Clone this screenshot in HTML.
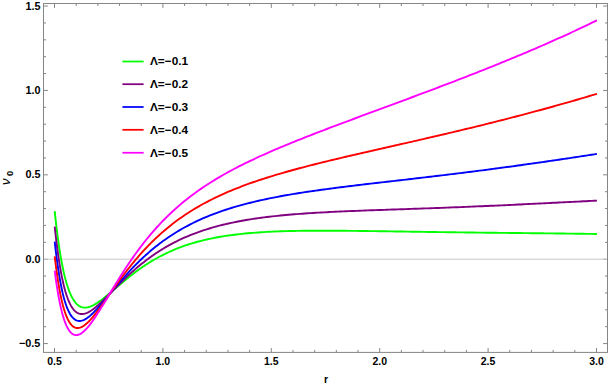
<!DOCTYPE html><html><head><meta charset="utf-8"><title>plot</title><style>
html,body{margin:0;padding:0;background:#fff}
#c{position:relative;width:608px;height:386px;overflow:hidden;background:#fff;font-family:"Liberation Sans",sans-serif}
</style></head><body><div id="c">
<svg width="608" height="386" viewBox="0 0 608 386" style="position:absolute;left:0;top:0">
<line x1="43.5" y1="259.2" x2="607.5" y2="259.2" stroke="#c9c9c9" stroke-width="1"/>
<path d="M54.70 211.22 L55.60 219.61 L56.50 227.40 L57.41 234.62 L58.31 241.32 L59.21 247.53 L60.12 253.27 L61.02 258.58 L61.92 263.49 L62.82 268.01 L63.72 272.19 L64.63 276.02 L65.53 279.55 L66.43 282.78 L67.34 285.74 L68.24 288.44 L69.14 290.90 L70.04 293.14 L70.94 295.16 L71.85 296.99 L72.75 298.63 L73.65 300.10 L74.56 301.40 L75.46 302.55 L76.36 303.56 L77.26 304.44 L78.17 305.19 L79.07 305.83 L79.97 306.35 L80.87 306.78 L81.78 307.11 L82.68 307.35 L83.58 307.50 L84.48 307.58 L85.38 307.59 L86.29 307.53 L87.19 307.41 L88.09 307.23 L89.00 306.99 L89.90 306.71 L90.80 306.38 L91.70 306.00 L92.61 305.59 L93.51 305.13 L94.41 304.65 L95.31 304.13 L96.22 303.58 L97.12 303.01 L98.02 302.41 L98.92 301.79 L99.83 301.15 L100.73 300.49 L101.63 299.82 L102.53 299.13 L103.44 298.42 L104.34 297.71 L105.24 296.98 L106.14 296.25 L107.05 295.50 L107.95 294.75 L108.85 293.99 L109.75 293.23 L110.66 292.46 L111.56 291.69 L112.46 290.92 L113.36 290.15 L114.27 289.37 L115.17 288.60 L116.07 287.82 L116.97 287.05 L117.88 286.27 L118.78 285.50 L119.68 284.74 L120.58 283.97 L121.48 283.21 L122.39 282.45 L123.29 281.70 L124.19 280.95 L125.09 280.20 L126.00 279.46 L126.90 278.72 L127.80 277.99 L128.70 277.27 L129.61 276.55 L130.51 275.84 L131.41 275.13 L132.31 274.43 L133.22 273.74 L134.12 273.06 L135.02 272.38 L135.93 271.70 L136.83 271.04 L137.73 270.38 L138.63 269.73 L139.53 269.08 L140.44 268.45 L141.34 267.82 L142.24 267.19 L143.14 266.58 L144.05 265.97 L144.95 265.37 L145.85 264.77 L146.75 264.19 L147.66 263.61 L148.56 263.04 L149.46 262.47 L150.37 261.92 L151.27 261.37 L152.17 260.83 L153.07 260.29 L153.97 259.76 L154.88 259.24 L155.78 258.73 L156.68 258.22 L157.58 257.72 L158.49 257.23 L159.39 256.75 L160.29 256.27 L161.19 255.80 L162.10 255.33 L163.00 254.87 L165.73 253.53 L168.46 252.24 L171.19 251.02 L173.92 249.84 L176.65 248.73 L179.38 247.66 L182.11 246.65 L184.83 245.68 L187.56 244.76 L190.29 243.89 L193.02 243.06 L195.75 242.27 L198.48 241.52 L201.21 240.81 L203.94 240.14 L206.67 239.50 L209.40 238.90 L212.13 238.33 L214.86 237.79 L217.59 237.28 L220.32 236.80 L223.04 236.35 L225.77 235.92 L228.50 235.51 L231.23 235.13 L233.96 234.78 L236.69 234.44 L239.42 234.13 L242.15 233.83 L244.88 233.56 L247.61 233.30 L250.34 233.06 L253.07 232.83 L255.80 232.62 L258.53 232.43 L261.25 232.24 L263.98 232.08 L266.71 231.92 L269.44 231.78 L272.17 231.65 L274.90 231.53 L277.63 231.42 L280.36 231.32 L283.09 231.22 L285.82 231.14 L288.55 231.07 L291.28 231.00 L294.01 230.94 L296.74 230.89 L299.46 230.85 L302.19 230.81 L304.92 230.77 L307.65 230.75 L310.38 230.73 L313.11 230.71 L315.84 230.70 L318.57 230.69 L321.30 230.69 L324.03 230.69 L326.76 230.69 L329.49 230.70 L332.22 230.71 L334.95 230.72 L337.67 230.74 L340.40 230.76 L343.13 230.78 L345.86 230.80 L348.59 230.83 L351.32 230.85 L354.05 230.88 L356.78 230.91 L359.51 230.95 L362.24 230.98 L364.97 231.01 L367.70 231.05 L370.43 231.09 L373.16 231.12 L375.89 231.16 L378.61 231.20 L381.34 231.24 L384.07 231.28 L386.80 231.32 L389.53 231.36 L392.26 231.40 L394.99 231.44 L397.72 231.48 L400.45 231.53 L403.18 231.57 L405.91 231.61 L408.64 231.65 L411.37 231.69 L414.10 231.73 L416.82 231.77 L419.55 231.81 L422.28 231.85 L425.01 231.89 L427.74 231.93 L430.47 231.97 L433.20 232.01 L435.93 232.05 L438.66 232.09 L441.39 232.13 L444.12 232.16 L446.85 232.20 L449.58 232.24 L452.31 232.27 L455.03 232.31 L457.76 232.35 L460.49 232.38 L463.22 232.42 L465.95 232.45 L468.68 232.48 L471.41 232.52 L474.14 232.55 L476.87 232.58 L479.60 232.61 L482.33 232.65 L485.06 232.68 L487.79 232.71 L490.52 232.74 L493.24 232.77 L495.97 232.80 L498.70 232.83 L501.43 232.86 L504.16 232.89 L506.89 232.92 L509.62 232.95 L512.35 232.98 L515.08 233.01 L517.81 233.04 L520.54 233.06 L523.27 233.09 L526.00 233.12 L528.73 233.15 L531.45 233.18 L534.18 233.21 L536.91 233.24 L539.64 233.27 L542.37 233.30 L545.10 233.33 L547.83 233.36 L550.56 233.39 L553.29 233.42 L556.02 233.45 L558.75 233.49 L561.48 233.52 L564.21 233.55 L566.94 233.59 L569.67 233.62 L572.39 233.65 L575.12 233.69 L577.85 233.73 L580.58 233.76 L583.31 233.80 L586.04 233.84 L588.77 233.88 L591.50 233.92 L594.23 233.96 L596.96 234.01" fill="none" stroke="#00ff00" stroke-width="1.9" stroke-linejoin="round"/>
<path d="M54.70 226.56 L55.60 234.81 L56.50 242.43 L57.41 249.46 L58.31 255.94 L59.21 261.91 L60.12 267.40 L61.02 272.44 L61.92 277.07 L62.82 281.30 L63.72 285.18 L64.63 288.71 L65.53 291.92 L66.43 294.84 L67.34 297.49 L68.24 299.87 L69.14 302.02 L70.04 303.93 L70.94 305.64 L71.85 307.15 L72.75 308.48 L73.65 309.64 L74.56 310.64 L75.46 311.49 L76.36 312.19 L77.26 312.78 L78.17 313.24 L79.07 313.58 L79.97 313.83 L80.87 313.97 L81.78 314.03 L82.68 314.00 L83.58 313.89 L84.48 313.71 L85.38 313.46 L86.29 313.15 L87.19 312.78 L88.09 312.36 L89.00 311.89 L89.90 311.37 L90.80 310.81 L91.70 310.22 L92.61 309.58 L93.51 308.92 L94.41 308.22 L95.31 307.50 L96.22 306.75 L97.12 305.98 L98.02 305.19 L98.92 304.38 L99.83 303.55 L100.73 302.71 L101.63 301.85 L102.53 300.99 L103.44 300.11 L104.34 299.22 L105.24 298.33 L106.14 297.43 L107.05 296.52 L107.95 295.61 L108.85 294.70 L109.75 293.78 L110.66 292.87 L111.56 291.95 L112.46 291.03 L113.36 290.11 L114.27 289.19 L115.17 288.28 L116.07 287.37 L116.97 286.46 L117.88 285.55 L118.78 284.65 L119.68 283.75 L120.58 282.85 L121.48 281.97 L122.39 281.08 L123.29 280.20 L124.19 279.33 L125.09 278.46 L126.00 277.60 L126.90 276.75 L127.80 275.90 L128.70 275.06 L129.61 274.23 L130.51 273.40 L131.41 272.58 L132.31 271.77 L133.22 270.97 L134.12 270.17 L135.02 269.38 L135.93 268.60 L136.83 267.83 L137.73 267.06 L138.63 266.31 L139.53 265.56 L140.44 264.81 L141.34 264.08 L142.24 263.36 L143.14 262.64 L144.05 261.93 L144.95 261.23 L145.85 260.53 L146.75 259.85 L147.66 259.17 L148.56 258.50 L149.46 257.83 L150.37 257.18 L151.27 256.53 L152.17 255.89 L153.07 255.26 L153.97 254.64 L154.88 254.02 L155.78 253.41 L156.68 252.81 L157.58 252.22 L158.49 251.63 L159.39 251.05 L160.29 250.48 L161.19 249.92 L162.10 249.36 L163.00 248.81 L165.73 247.19 L168.46 245.63 L171.19 244.13 L173.92 242.69 L176.65 241.30 L179.38 239.97 L182.11 238.70 L184.83 237.47 L187.56 236.30 L190.29 235.17 L193.02 234.09 L195.75 233.05 L198.48 232.05 L201.21 231.10 L203.94 230.19 L206.67 229.31 L209.40 228.47 L212.13 227.66 L214.86 226.89 L217.59 226.15 L220.32 225.44 L223.04 224.76 L225.77 224.11 L228.50 223.48 L231.23 222.88 L233.96 222.31 L236.69 221.76 L239.42 221.24 L242.15 220.73 L244.88 220.25 L247.61 219.79 L250.34 219.34 L253.07 218.92 L255.80 218.51 L258.53 218.12 L261.25 217.75 L263.98 217.39 L266.71 217.05 L269.44 216.72 L272.17 216.41 L274.90 216.11 L277.63 215.82 L280.36 215.54 L283.09 215.28 L285.82 215.02 L288.55 214.78 L291.28 214.54 L294.01 214.32 L296.74 214.10 L299.46 213.89 L302.19 213.69 L304.92 213.50 L307.65 213.31 L310.38 213.13 L313.11 212.96 L315.84 212.79 L318.57 212.63 L321.30 212.48 L324.03 212.33 L326.76 212.18 L329.49 212.04 L332.22 211.91 L334.95 211.78 L337.67 211.65 L340.40 211.52 L343.13 211.40 L345.86 211.28 L348.59 211.17 L351.32 211.06 L354.05 210.95 L356.78 210.84 L359.51 210.73 L362.24 210.63 L364.97 210.52 L367.70 210.42 L370.43 210.32 L373.16 210.22 L375.89 210.13 L378.61 210.03 L381.34 209.94 L384.07 209.84 L386.80 209.75 L389.53 209.65 L392.26 209.56 L394.99 209.46 L397.72 209.37 L400.45 209.28 L403.18 209.18 L405.91 209.09 L408.64 209.00 L411.37 208.90 L414.10 208.81 L416.82 208.71 L419.55 208.62 L422.28 208.52 L425.01 208.42 L427.74 208.33 L430.47 208.23 L433.20 208.13 L435.93 208.03 L438.66 207.93 L441.39 207.83 L444.12 207.73 L446.85 207.62 L449.58 207.52 L452.31 207.41 L455.03 207.31 L457.76 207.20 L460.49 207.09 L463.22 206.98 L465.95 206.87 L468.68 206.76 L471.41 206.65 L474.14 206.53 L476.87 206.42 L479.60 206.30 L482.33 206.18 L485.06 206.06 L487.79 205.94 L490.52 205.82 L493.24 205.70 L495.97 205.58 L498.70 205.46 L501.43 205.33 L504.16 205.21 L506.89 205.08 L509.62 204.95 L512.35 204.83 L515.08 204.70 L517.81 204.57 L520.54 204.44 L523.27 204.31 L526.00 204.17 L528.73 204.04 L531.45 203.91 L534.18 203.77 L536.91 203.64 L539.64 203.50 L542.37 203.37 L545.10 203.23 L547.83 203.10 L550.56 202.96 L553.29 202.82 L556.02 202.69 L558.75 202.55 L561.48 202.41 L564.21 202.28 L566.94 202.14 L569.67 202.00 L572.39 201.87 L575.12 201.73 L577.85 201.59 L580.58 201.46 L583.31 201.32 L586.04 201.19 L588.77 201.05 L591.50 200.92 L594.23 200.79 L596.96 200.66" fill="none" stroke="#800080" stroke-width="1.9" stroke-linejoin="round"/>
<path d="M54.70 241.59 L55.60 249.54 L56.50 256.85 L57.41 263.58 L58.31 269.76 L59.21 275.43 L60.12 280.62 L61.02 285.36 L61.92 289.69 L62.82 293.63 L63.72 297.20 L64.63 300.44 L65.53 303.37 L66.43 306.00 L67.34 308.35 L68.24 310.45 L69.14 312.31 L70.04 313.95 L70.94 315.38 L71.85 316.62 L72.75 317.67 L73.65 318.56 L74.56 319.29 L75.46 319.88 L76.36 320.32 L77.26 320.65 L78.17 320.85 L79.07 320.95 L79.97 320.94 L80.87 320.84 L81.78 320.65 L82.68 320.38 L83.58 320.03 L84.48 319.61 L85.38 319.13 L86.29 318.59 L87.19 317.99 L88.09 317.35 L89.00 316.65 L89.90 315.92 L90.80 315.14 L91.70 314.33 L92.61 313.48 L93.51 312.60 L94.41 311.70 L95.31 310.77 L96.22 309.82 L97.12 308.84 L98.02 307.85 L98.92 306.85 L99.83 305.82 L100.73 304.79 L101.63 303.75 L102.53 302.69 L103.44 301.63 L104.34 300.56 L105.24 299.48 L106.14 298.40 L107.05 297.32 L107.95 296.23 L108.85 295.14 L109.75 294.05 L110.66 292.96 L111.56 291.87 L112.46 290.79 L113.36 289.70 L114.27 288.62 L115.17 287.54 L116.07 286.47 L116.97 285.40 L117.88 284.34 L118.78 283.28 L119.68 282.22 L120.58 281.17 L121.48 280.13 L122.39 279.10 L123.29 278.07 L124.19 277.05 L125.09 276.03 L126.00 275.03 L126.90 274.03 L127.80 273.04 L128.70 272.06 L129.61 271.08 L130.51 270.12 L131.41 269.16 L132.31 268.21 L133.22 267.27 L134.12 266.34 L135.02 265.41 L135.93 264.50 L136.83 263.59 L137.73 262.70 L138.63 261.81 L139.53 260.93 L140.44 260.06 L141.34 259.20 L142.24 258.35 L143.14 257.50 L144.05 256.67 L144.95 255.84 L145.85 255.03 L146.75 254.22 L147.66 253.42 L148.56 252.63 L149.46 251.84 L150.37 251.07 L151.27 250.30 L152.17 249.55 L153.07 248.80 L153.97 248.06 L154.88 247.33 L155.78 246.60 L156.68 245.89 L157.58 245.18 L158.49 244.48 L159.39 243.79 L160.29 243.11 L161.19 242.43 L162.10 241.76 L163.00 241.10 L165.73 239.15 L168.46 237.27 L171.19 235.45 L173.92 233.69 L176.65 232.00 L179.38 230.36 L182.11 228.79 L184.83 227.26 L187.56 225.79 L190.29 224.37 L193.02 223.00 L195.75 221.68 L198.48 220.40 L201.21 219.17 L203.94 217.97 L206.67 216.82 L209.40 215.71 L212.13 214.63 L214.86 213.59 L217.59 212.59 L220.32 211.61 L223.04 210.67 L225.77 209.76 L228.50 208.88 L231.23 208.02 L233.96 207.20 L236.69 206.39 L239.42 205.62 L242.15 204.86 L244.88 204.13 L247.61 203.42 L250.34 202.73 L253.07 202.07 L255.80 201.42 L258.53 200.78 L261.25 200.17 L263.98 199.57 L266.71 198.99 L269.44 198.43 L272.17 197.87 L274.90 197.34 L277.63 196.81 L280.36 196.30 L283.09 195.80 L285.82 195.31 L288.55 194.84 L291.28 194.37 L294.01 193.92 L296.74 193.47 L299.46 193.03 L302.19 192.60 L304.92 192.18 L307.65 191.77 L310.38 191.37 L313.11 190.97 L315.84 190.58 L318.57 190.19 L321.30 189.81 L324.03 189.44 L326.76 189.07 L329.49 188.71 L332.22 188.35 L334.95 187.99 L337.67 187.64 L340.40 187.30 L343.13 186.95 L345.86 186.61 L348.59 186.28 L351.32 185.94 L354.05 185.61 L356.78 185.28 L359.51 184.96 L362.24 184.63 L364.97 184.31 L367.70 183.99 L370.43 183.67 L373.16 183.35 L375.89 183.03 L378.61 182.72 L381.34 182.40 L384.07 182.09 L386.80 181.77 L389.53 181.46 L392.26 181.14 L394.99 180.83 L397.72 180.52 L400.45 180.20 L403.18 179.89 L405.91 179.57 L408.64 179.26 L411.37 178.94 L414.10 178.63 L416.82 178.31 L419.55 177.99 L422.28 177.67 L425.01 177.35 L427.74 177.03 L430.47 176.71 L433.20 176.39 L435.93 176.06 L438.66 175.74 L441.39 175.41 L444.12 175.08 L446.85 174.75 L449.58 174.42 L452.31 174.09 L455.03 173.76 L457.76 173.42 L460.49 173.08 L463.22 172.74 L465.95 172.40 L468.68 172.06 L471.41 171.71 L474.14 171.37 L476.87 171.02 L479.60 170.67 L482.33 170.32 L485.06 169.96 L487.79 169.61 L490.52 169.25 L493.24 168.89 L495.97 168.53 L498.70 168.16 L501.43 167.80 L504.16 167.43 L506.89 167.06 L509.62 166.69 L512.35 166.32 L515.08 165.94 L517.81 165.56 L520.54 165.19 L523.27 164.81 L526.00 164.42 L528.73 164.04 L531.45 163.65 L534.18 163.27 L536.91 162.88 L539.64 162.48 L542.37 162.09 L545.10 161.70 L547.83 161.30 L550.56 160.90 L553.29 160.50 L556.02 160.10 L558.75 159.70 L561.48 159.30 L564.21 158.89 L566.94 158.48 L569.67 158.07 L572.39 157.66 L575.12 157.25 L577.85 156.84 L580.58 156.43 L583.31 156.01 L586.04 155.60 L588.77 155.18 L591.50 154.76 L594.23 154.34 L596.96 153.92" fill="none" stroke="#0000ff" stroke-width="1.9" stroke-linejoin="round"/>
<path d="M54.70 256.32 L55.60 263.80 L56.50 270.68 L57.41 277.00 L58.31 282.79 L59.21 288.09 L60.12 292.93 L61.02 297.34 L61.92 301.35 L62.82 304.99 L63.72 308.27 L64.63 311.23 L65.53 313.88 L66.43 316.24 L67.34 318.33 L68.24 320.18 L69.14 321.79 L70.04 323.19 L70.94 324.38 L71.85 325.38 L72.75 326.21 L73.65 326.86 L74.56 327.37 L75.46 327.73 L76.36 327.95 L77.26 328.06 L78.17 328.04 L79.07 327.92 L79.97 327.69 L80.87 327.37 L81.78 326.97 L82.68 326.48 L83.58 325.92 L84.48 325.30 L85.38 324.60 L86.29 323.85 L87.19 323.04 L88.09 322.18 L89.00 321.28 L89.90 320.33 L90.80 319.35 L91.70 318.33 L92.61 317.27 L93.51 316.19 L94.41 315.08 L95.31 313.94 L96.22 312.78 L97.12 311.61 L98.02 310.41 L98.92 309.20 L99.83 307.98 L100.73 306.74 L101.63 305.49 L102.53 304.24 L103.44 302.98 L104.34 301.71 L105.24 300.43 L106.14 299.16 L107.05 297.88 L107.95 296.59 L108.85 295.31 L109.75 294.03 L110.66 292.75 L111.56 291.47 L112.46 290.20 L113.36 288.92 L114.27 287.65 L115.17 286.39 L116.07 285.13 L116.97 283.88 L117.88 282.63 L118.78 281.39 L119.68 280.16 L120.58 278.93 L121.48 277.71 L122.39 276.50 L123.29 275.29 L124.19 274.10 L125.09 272.91 L126.00 271.73 L126.90 270.56 L127.80 269.40 L128.70 268.25 L129.61 267.11 L130.51 265.98 L131.41 264.86 L132.31 263.75 L133.22 262.64 L134.12 261.55 L135.02 260.47 L135.93 259.40 L136.83 258.33 L137.73 257.28 L138.63 256.24 L139.53 255.21 L140.44 254.18 L141.34 253.17 L142.24 252.17 L143.14 251.17 L144.05 250.19 L144.95 249.22 L145.85 248.26 L146.75 247.30 L147.66 246.36 L148.56 245.43 L149.46 244.50 L150.37 243.59 L151.27 242.68 L152.17 241.79 L153.07 240.90 L153.97 240.02 L154.88 239.16 L155.78 238.30 L156.68 237.45 L157.58 236.61 L158.49 235.78 L159.39 234.96 L160.29 234.14 L161.19 233.34 L162.10 232.54 L163.00 231.75 L165.73 229.42 L168.46 227.16 L171.19 224.98 L173.92 222.86 L176.65 220.82 L179.38 218.83 L182.11 216.91 L184.83 215.05 L187.56 213.25 L190.29 211.50 L193.02 209.80 L195.75 208.16 L198.48 206.56 L201.21 205.01 L203.94 203.51 L206.67 202.05 L209.40 200.63 L212.13 199.25 L214.86 197.90 L217.59 196.60 L220.32 195.32 L223.04 194.09 L225.77 192.88 L228.50 191.70 L231.23 190.55 L233.96 189.43 L236.69 188.34 L239.42 187.27 L242.15 186.22 L244.88 185.20 L247.61 184.20 L250.34 183.22 L253.07 182.26 L255.80 181.32 L258.53 180.40 L261.25 179.50 L263.98 178.61 L266.71 177.74 L269.44 176.88 L272.17 176.04 L274.90 175.21 L277.63 174.40 L280.36 173.59 L283.09 172.80 L285.82 172.02 L288.55 171.25 L291.28 170.49 L294.01 169.75 L296.74 169.01 L299.46 168.27 L302.19 167.55 L304.92 166.83 L307.65 166.13 L310.38 165.43 L313.11 164.73 L315.84 164.04 L318.57 163.36 L321.30 162.68 L324.03 162.01 L326.76 161.34 L329.49 160.68 L332.22 160.02 L334.95 159.37 L337.67 158.72 L340.40 158.07 L343.13 157.43 L345.86 156.79 L348.59 156.15 L351.32 155.52 L354.05 154.88 L356.78 154.25 L359.51 153.62 L362.24 153.00 L364.97 152.37 L367.70 151.75 L370.43 151.12 L373.16 150.50 L375.89 149.88 L378.61 149.26 L381.34 148.64 L384.07 148.02 L386.80 147.40 L389.53 146.78 L392.26 146.16 L394.99 145.54 L397.72 144.92 L400.45 144.30 L403.18 143.68 L405.91 143.06 L408.64 142.44 L411.37 141.81 L414.10 141.19 L416.82 140.56 L419.55 139.94 L422.28 139.31 L425.01 138.68 L427.74 138.05 L430.47 137.42 L433.20 136.79 L435.93 136.15 L438.66 135.52 L441.39 134.88 L444.12 134.24 L446.85 133.60 L449.58 132.95 L452.31 132.31 L455.03 131.66 L457.76 131.01 L460.49 130.36 L463.22 129.70 L465.95 129.04 L468.68 128.38 L471.41 127.72 L474.14 127.06 L476.87 126.39 L479.60 125.72 L482.33 125.05 L485.06 124.37 L487.79 123.69 L490.52 123.01 L493.24 122.33 L495.97 121.64 L498.70 120.95 L501.43 120.25 L504.16 119.56 L506.89 118.86 L509.62 118.16 L512.35 117.45 L515.08 116.74 L517.81 116.03 L520.54 115.31 L523.27 114.60 L526.00 113.87 L528.73 113.15 L531.45 112.42 L534.18 111.69 L536.91 110.95 L539.64 110.21 L542.37 109.47 L545.10 108.72 L547.83 107.97 L550.56 107.22 L553.29 106.46 L556.02 105.70 L558.75 104.93 L561.48 104.16 L564.21 103.39 L566.94 102.61 L569.67 101.83 L572.39 101.05 L575.12 100.26 L577.85 99.47 L580.58 98.67 L583.31 97.87 L586.04 97.06 L588.77 96.26 L591.50 95.44 L594.23 94.63 L596.96 93.81" fill="none" stroke="#ff0000" stroke-width="1.9" stroke-linejoin="round"/>
<path d="M54.70 270.75 L55.60 277.60 L56.50 283.91 L57.41 289.71 L58.31 295.03 L59.21 299.90 L60.12 304.34 L61.02 308.39 L61.92 312.06 L62.82 315.38 L63.72 318.37 L64.63 321.06 L65.53 323.45 L66.43 325.57 L67.34 327.43 L68.24 329.06 L69.14 330.46 L70.04 331.65 L70.94 332.64 L71.85 333.44 L72.75 334.08 L73.65 334.55 L74.56 334.86 L75.46 335.04 L76.36 335.08 L77.26 335.00 L78.17 334.80 L79.07 334.50 L79.97 334.09 L80.87 333.59 L81.78 332.99 L82.68 332.32 L83.58 331.57 L84.48 330.76 L85.38 329.87 L86.29 328.93 L87.19 327.93 L88.09 326.87 L89.00 325.77 L89.90 324.63 L90.80 323.44 L91.70 322.22 L92.61 320.96 L93.51 319.67 L94.41 318.36 L95.31 317.01 L96.22 315.65 L97.12 314.26 L98.02 312.86 L98.92 311.44 L99.83 310.01 L100.73 308.56 L101.63 307.10 L102.53 305.63 L103.44 304.16 L104.34 302.68 L105.24 301.19 L106.14 299.70 L107.05 298.21 L107.95 296.71 L108.85 295.22 L109.75 293.72 L110.66 292.23 L111.56 290.74 L112.46 289.25 L113.36 287.77 L114.27 286.29 L115.17 284.82 L116.07 283.35 L116.97 281.89 L117.88 280.43 L118.78 278.99 L119.68 277.55 L120.58 276.12 L121.48 274.69 L122.39 273.28 L123.29 271.88 L124.19 270.48 L125.09 269.09 L126.00 267.72 L126.90 266.35 L127.80 265.00 L128.70 263.65 L129.61 262.32 L130.51 261.00 L131.41 259.68 L132.31 258.38 L133.22 257.09 L134.12 255.81 L135.02 254.55 L135.93 253.29 L136.83 252.05 L137.73 250.81 L138.63 249.59 L139.53 248.38 L140.44 247.18 L141.34 245.99 L142.24 244.82 L143.14 243.65 L144.05 242.50 L144.95 241.35 L145.85 240.22 L146.75 239.10 L147.66 237.99 L148.56 236.90 L149.46 235.81 L150.37 234.73 L151.27 233.67 L152.17 232.61 L153.07 231.57 L153.97 230.54 L154.88 229.51 L155.78 228.50 L156.68 227.50 L157.58 226.51 L158.49 225.52 L159.39 224.55 L160.29 223.59 L161.19 222.64 L162.10 221.70 L163.00 220.76 L165.73 218.00 L168.46 215.32 L171.19 212.72 L173.92 210.20 L176.65 207.75 L179.38 205.38 L182.11 203.07 L184.83 200.83 L187.56 198.66 L190.29 196.54 L193.02 194.49 L195.75 192.49 L198.48 190.54 L201.21 188.64 L203.94 186.79 L206.67 184.98 L209.40 183.22 L212.13 181.50 L214.86 179.82 L217.59 178.18 L220.32 176.57 L223.04 175.00 L225.77 173.46 L228.50 171.95 L231.23 170.47 L233.96 169.02 L236.69 167.59 L239.42 166.19 L242.15 164.81 L244.88 163.46 L247.61 162.13 L250.34 160.81 L253.07 159.52 L255.80 158.24 L258.53 156.98 L261.25 155.74 L263.98 154.51 L266.71 153.30 L269.44 152.10 L272.17 150.91 L274.90 149.73 L277.63 148.57 L280.36 147.42 L283.09 146.28 L285.82 145.15 L288.55 144.02 L291.28 142.91 L294.01 141.80 L296.74 140.70 L299.46 139.61 L302.19 138.53 L304.92 137.45 L307.65 136.38 L310.38 135.31 L313.11 134.25 L315.84 133.19 L318.57 132.14 L321.30 131.09 L324.03 130.05 L326.76 129.01 L329.49 127.97 L332.22 126.94 L334.95 125.91 L337.67 124.88 L340.40 123.86 L343.13 122.83 L345.86 121.81 L348.59 120.79 L351.32 119.78 L354.05 118.76 L356.78 117.74 L359.51 116.73 L362.24 115.72 L364.97 114.71 L367.70 113.70 L370.43 112.69 L373.16 111.68 L375.89 110.67 L378.61 109.66 L381.34 108.65 L384.07 107.64 L386.80 106.63 L389.53 105.62 L392.26 104.61 L394.99 103.60 L397.72 102.58 L400.45 101.57 L403.18 100.56 L405.91 99.54 L408.64 98.53 L411.37 97.51 L414.10 96.50 L416.82 95.48 L419.55 94.46 L422.28 93.43 L425.01 92.41 L427.74 91.38 L430.47 90.36 L433.20 89.33 L435.93 88.30 L438.66 87.26 L441.39 86.23 L444.12 85.19 L446.85 84.15 L449.58 83.11 L452.31 82.06 L455.03 81.02 L457.76 79.96 L460.49 78.91 L463.22 77.86 L465.95 76.80 L468.68 75.73 L471.41 74.67 L474.14 73.60 L476.87 72.53 L479.60 71.45 L482.33 70.37 L485.06 69.29 L487.79 68.20 L490.52 67.11 L493.24 66.01 L495.97 64.92 L498.70 63.81 L501.43 62.70 L504.16 61.59 L506.89 60.48 L509.62 59.35 L512.35 58.23 L515.08 57.10 L517.81 55.96 L520.54 54.82 L523.27 53.67 L526.00 52.52 L528.73 51.37 L531.45 50.20 L534.18 49.04 L536.91 47.86 L539.64 46.68 L542.37 45.50 L545.10 44.30 L547.83 43.10 L550.56 41.90 L553.29 40.69 L556.02 39.47 L558.75 38.24 L561.48 37.01 L564.21 35.77 L566.94 34.53 L569.67 33.27 L572.39 32.01 L575.12 30.74 L577.85 29.47 L580.58 28.18 L583.31 26.89 L586.04 25.59 L588.77 24.28 L591.50 22.97 L594.23 21.64 L596.96 20.31" fill="none" stroke="#ff00ff" stroke-width="1.9" stroke-linejoin="round"/>
<rect x="43.5" y="3.5" width="564.0" height="348.9" fill="none" stroke="#868686" stroke-width="1"/>
<path d="M54.50 352.4 v-4.4 M54.50 3.5 v4.4 M76.18 352.4 v-2.5 M76.18 3.5 v2.5 M97.86 352.4 v-2.5 M97.86 3.5 v2.5 M119.54 352.4 v-2.5 M119.54 3.5 v2.5 M141.22 352.4 v-2.5 M141.22 3.5 v2.5 M162.90 352.4 v-4.4 M162.90 3.5 v4.4 M184.58 352.4 v-2.5 M184.58 3.5 v2.5 M206.26 352.4 v-2.5 M206.26 3.5 v2.5 M227.94 352.4 v-2.5 M227.94 3.5 v2.5 M249.62 352.4 v-2.5 M249.62 3.5 v2.5 M271.30 352.4 v-4.4 M271.30 3.5 v4.4 M292.98 352.4 v-2.5 M292.98 3.5 v2.5 M314.66 352.4 v-2.5 M314.66 3.5 v2.5 M336.34 352.4 v-2.5 M336.34 3.5 v2.5 M358.02 352.4 v-2.5 M358.02 3.5 v2.5 M379.70 352.4 v-4.4 M379.70 3.5 v4.4 M401.38 352.4 v-2.5 M401.38 3.5 v2.5 M423.06 352.4 v-2.5 M423.06 3.5 v2.5 M444.74 352.4 v-2.5 M444.74 3.5 v2.5 M466.42 352.4 v-2.5 M466.42 3.5 v2.5 M488.10 352.4 v-4.4 M488.10 3.5 v4.4 M509.78 352.4 v-2.5 M509.78 3.5 v2.5 M531.46 352.4 v-2.5 M531.46 3.5 v2.5 M553.14 352.4 v-2.5 M553.14 3.5 v2.5 M574.82 352.4 v-2.5 M574.82 3.5 v2.5 M596.50 352.4 v-4.4 M596.50 3.5 v4.4 M43.5 343.57 h4.4 M607.5 343.57 h-4.4 M43.5 326.70 h2.5 M607.5 326.70 h-2.5 M43.5 309.82 h2.5 M607.5 309.82 h-2.5 M43.5 292.95 h2.5 M607.5 292.95 h-2.5 M43.5 276.07 h2.5 M607.5 276.07 h-2.5 M43.5 242.32 h2.5 M607.5 242.32 h-2.5 M43.5 225.45 h2.5 M607.5 225.45 h-2.5 M43.5 208.57 h2.5 M607.5 208.57 h-2.5 M43.5 191.70 h2.5 M607.5 191.70 h-2.5 M43.5 174.82 h4.4 M607.5 174.82 h-4.4 M43.5 157.95 h2.5 M607.5 157.95 h-2.5 M43.5 141.07 h2.5 M607.5 141.07 h-2.5 M43.5 124.20 h2.5 M607.5 124.20 h-2.5 M43.5 107.32 h2.5 M607.5 107.32 h-2.5 M43.5 90.45 h4.4 M607.5 90.45 h-4.4 M43.5 73.57 h2.5 M607.5 73.57 h-2.5 M43.5 56.70 h2.5 M607.5 56.70 h-2.5 M43.5 39.82 h2.5 M607.5 39.82 h-2.5 M43.5 22.95 h2.5 M607.5 22.95 h-2.5 M43.5 6.07 h4.4 M607.5 6.07 h-4.4" fill="none" stroke="#868686" stroke-width="1"/>
<path d="M44.0 259.2 h3.9 M607.0 259.2 h-3.9" fill="none" stroke="#b4b4b4" stroke-width="1"/>
<line x1="122.4" y1="61.5" x2="143.6" y2="61.5" stroke="#00ff00" stroke-width="1.75"/>
<line x1="122.4" y1="84.2" x2="143.6" y2="84.2" stroke="#800080" stroke-width="1.75"/>
<line x1="122.4" y1="107" x2="143.6" y2="107" stroke="#0000ff" stroke-width="1.75"/>
<line x1="122.4" y1="129.8" x2="143.6" y2="129.8" stroke="#ff0000" stroke-width="1.75"/>
<line x1="122.4" y1="152.75" x2="143.6" y2="152.75" stroke="#ff00ff" stroke-width="1.75"/>
<g font-family="'Liberation Sans',sans-serif" font-weight="bold" fill="#000">
<g font-size="10.8" text-anchor="end">
<text x="40.4" y="9.97">1.5</text>
<text x="40.4" y="93.9">1.0</text>
<text x="40.4" y="178.02">0.5</text>
<text x="40.4" y="263">0.0</text>
<text x="40.4" y="346.77">−0.5</text>
</g>
<g font-size="10.5" text-anchor="middle">
<text x="54.5" y="365.3">0.5</text>
<text x="162.9" y="365.3">1.0</text>
<text x="271.3" y="365.3">1.5</text>
<text x="379.7" y="365.3">2.0</text>
<text x="488.1" y="365.3">2.5</text>
<text x="596.5" y="365.3">3.0</text>
<text x="326" y="383.4">r</text>
</g>
<g font-size="11.8" text-anchor="start">
<text x="150" y="65.3">Λ=−0.1</text>
<text x="150" y="88">Λ=−0.2</text>
<text x="150" y="110.8">Λ=−0.3</text>
<text x="150" y="133.6">Λ=−0.4</text>
<text x="150" y="156.55">Λ=−0.5</text>
</g>
</g>
<g transform="translate(9.55,185.1) rotate(-90)"><text x="0" y="0" font-family="'Liberation Sans',sans-serif" font-size="13" font-style="italic" fill="#000">ν</text><text x="9" y="3.1" font-family="'Liberation Sans',sans-serif" font-size="9.3" font-weight="bold" fill="#000">0</text></g>
</svg>
</div></body></html>
